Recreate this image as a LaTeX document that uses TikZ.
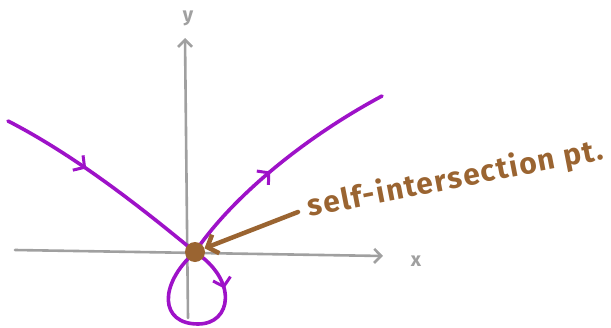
\documentclass[tikz,border=0pt]{standalone}
\usepackage{fontspec}
\setmainfont{Fira Sans}
\newfontfamily\handfont[LetterSpace=5]{Fira Sans}
\usetikzlibrary{arrows.meta,decorations.markings}
\definecolor{curvepurple}{HTML}{9E12C8}
\definecolor{ptbrown}{HTML}{9A6431}
\definecolor{axisgray}{HTML}{A0A0A0}
\tikzset{
  axis/.style={draw=axisgray,line width=2.6pt,line cap=round,-{Straight Barb[length=7pt,width=14pt,line width=2.6pt]}},
  axlabel/.style={text=axisgray,font=\bfseries\fontsize{20}{20}\selectfont,inner sep=0pt},
  curve/.style={draw=curvepurple,line width=3.6pt,line cap=round,line join=round},
  midarrow/.style={postaction={decorate},decoration={markings,mark=at position #1 with {\arrow[line width=3pt]{Straight Barb[length=8pt,width=18pt]}}}},
  ptlabel/.style={text=ptbrown,font=\handfont\bfseries\fontsize{30}{30}\selectfont,inner sep=0pt},
  pointer/.style={draw=ptbrown,line width=4.5pt,line cap=round,-{Straight Barb[length=9pt,width=20pt,line width=4.5pt]}}
}
\begin{document}
\begin{tikzpicture}[x=1pt,y=-1pt]
\useasboundingbox (0,0) rectangle (611,327);
% axes
\coordinate (xs) at (15,250);
\coordinate (xe) at (383,256);
\coordinate (ys) at (188,318);
\coordinate (ye) at (185,38);
\draw[axis] (xs) -- (xe);
\draw[axis] (ys) -- (ye);
\node[axlabel] (xl) at (416,261) {x};
\node[axlabel] (yl) at (188,18) {y};
% curve
\coordinate (c) at (195,252);
\coordinate (l0) at (8,121);
\coordinate (r0) at (382,96);
\draw[curve,midarrow=0.4] (l0) .. controls (80,158) and (150,215) .. (c);
\draw[curve,midarrow=0.45] (c) .. controls (230,200) and (300,140) .. (r0);
\draw[curve,midarrow=0.24] (c) .. controls (238,280) and (232,324) .. (198,324)
  .. controls (160,324) and (158,285) .. (c);
% point
\node[circle,fill=ptbrown,minimum size=20pt,inner sep=0pt] (p) at (c) {};
\node[ptlabel,rotate=11,anchor=west] (lbl) at (308,208) {self-intersection pt.};
\draw[pointer] (lbl.west) ++(-10,4) coordinate (ps) (ps) -- (p);
\end{tikzpicture}
\end{document}
